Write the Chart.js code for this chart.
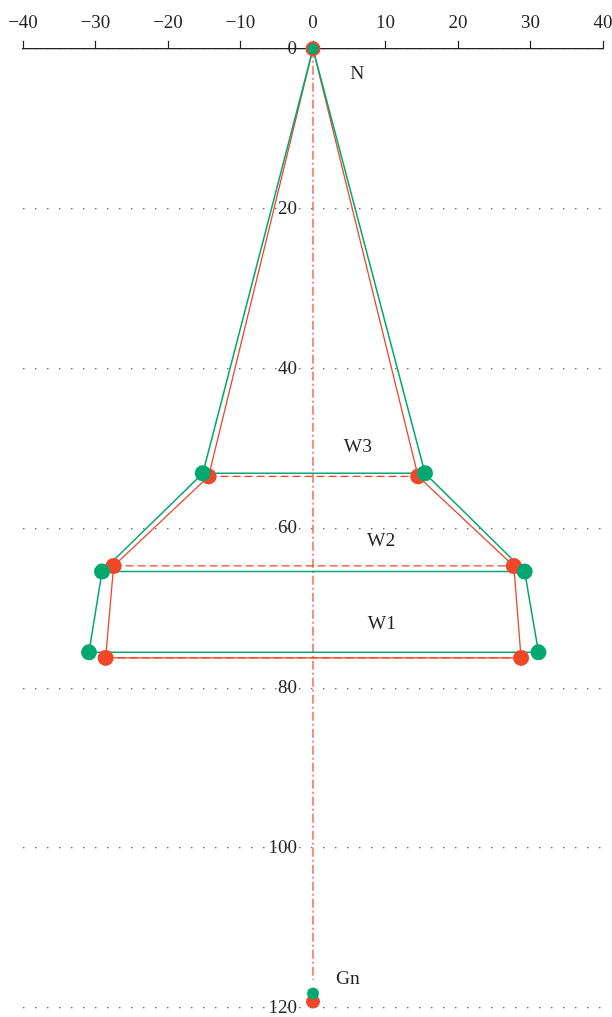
<!DOCTYPE html>
<html>
<head>
<meta charset="utf-8">
<script src="https://cdn.jsdelivr.net/npm/chart.js@4.4.1/dist/chart.umd.min.js"></script>
<style>
  html, body { margin: 0; padding: 0; background: #fff; }
  #wrap { width: 612px; height: 1017px; }
</style>
</head>
<body>
<div id="wrap"><canvas id="my-chart"></canvas></div>
<script>
// levels from top to bottom: N, W3, W2, W1, Gn
const levels = ["N", "W3", "W2", "W1", "Gn"];

// green model
const greenLeftX = [0, -15.2, -29.1, -30.9, 0];
const greenRightX = [0, 15.45, 29.2, 31.1, 0];
const greenY = [0, 53.1, 65.4, 75.5, 118.2];

// red model
const redLeftX = [0, -14.4, -27.5, -28.6, 0];
const redRightX = [0, 14.5, 27.7, 28.7, 0];
const redY = [0, 53.5, 64.7, 76.2, 119.2];

// centre line
const centerLineY = [0, 116.5];

// annotations
const labelText = ["N", "W3", "W2", "W1", "Gn"];
const labelX = [6.1, 6.2, 9.4, 9.5, 4.8];
const labelY = [3.1, 49.8, 61.5, 71.9, 116.4];

// ticks
const xTicks = [-40, -30, -20, -10, 0, 10, 20, 30, 40];
const yTicks = [0, 20, 40, 60, 80, 100, 120];

const GREEN = "#00a870";
const RED = "#f0462a";
const INK = "#231f20";
const FONT = "'Liberation Serif', 'DejaVu Serif', serif";

// outline: N -> left side down -> W1 across -> right side up -> N
function outline(leftX, rightX, ys) {
    const pts = [];
    for (let i = 0; i <= 3; i++) pts.push({ x: leftX[i], y: ys[i] });
    for (let i = 3; i >= 0; i--) pts.push({ x: rightX[i], y: ys[i] });
    return pts;
}

// horizontal members at the given levels, split with gaps
function crossbars(leftX, rightX, ys, idx) {
    const pts = [];
    idx.forEach((i) => {
        pts.push({ x: leftX[i], y: ys[i] });
        pts.push({ x: rightX[i], y: ys[i] });
        pts.push({ x: 0, y: null });
    });
    return pts;
}

function nodes(leftX, rightX, ys) {
    const pts = [];
    for (let i = 0; i < levels.length; i++) {
        pts.push({ x: leftX[i], y: ys[i] });
        if (rightX[i] !== leftX[i]) pts.push({ x: rightX[i], y: ys[i] });
    }
    return pts;
}

const greenNodes = nodes(greenLeftX, greenRightX, greenY);
const redNodes = nodes(redLeftX, redRightX, redY);

const labelPlugin = {
    id: "labels",
    afterDatasetsDraw(chart) {
        const ctx = chart.ctx;
        const xs = chart.scales.x;
        const ys = chart.scales.y;
        ctx.save();
        ctx.fillStyle = INK;
        ctx.font = "19.5px " + FONT;
        ctx.textAlign = "center";
        ctx.textBaseline = "middle";
        labelText.forEach((t, i) => {
            ctx.fillText(t, xs.getPixelForValue(labelX[i]), ys.getPixelForValue(labelY[i]));
        });
        ctx.restore();
    },
};

const ctx = document.getElementById("my-chart").getContext("2d");
const chart = new Chart(ctx, {
    type: "scatter",
    data: {
        datasets: [
            {
                // green nodes on top
                data: greenNodes,
                backgroundColor: GREEN,
                borderColor: GREEN,
                pointRadius: greenNodes.map((p) => (p.y === greenY[4] ? 6 : p.y === 0 ? 5.5 : 8)),
                borderWidth: 0,
                showLine: false,
                clip: false,
            },
            {
                data: redNodes,
                backgroundColor: RED,
                borderColor: RED,
                pointRadius: redNodes.map((p) => (p.y === redY[4] ? 7 : p.y === 0 ? 7.5 : 8)),
                borderWidth: 0,
                showLine: false,
                clip: false,
            },
            {
                data: outline(greenLeftX, greenRightX, greenY),
                showLine: true,
                borderColor: GREEN,
                borderWidth: 1.5,
                pointRadius: 0,
                clip: false,
            },
            {
                data: crossbars(greenLeftX, greenRightX, greenY, [1, 2]),
                showLine: true,
                spanGaps: false,
                borderColor: GREEN,
                borderWidth: 1.5,
                pointRadius: 0,
                clip: false,
            },
            {
                data: outline(redLeftX, redRightX, redY),
                showLine: true,
                borderColor: RED,
                borderWidth: 1.3,
                pointRadius: 0,
                clip: false,
            },
            {
                data: crossbars(redLeftX, redRightX, redY, [1, 2, 3]),
                showLine: true,
                spanGaps: false,
                borderColor: RED,
                borderWidth: 1.3,
                borderDash: [8, 4],
                pointRadius: 0,
                clip: false,
            },
            {
                data: centerLineY.map((y) => ({ x: 0, y: y })),
                showLine: true,
                borderColor: RED,
                borderWidth: 1.2,
                borderDash: [9, 3, 2, 3],
                pointRadius: 0,
                clip: false,
            },
        ],
    },
    options: {
        responsive: true,
        maintainAspectRatio: false,
        animation: false,
        layout: { padding: { left: 23, right: 9, top: 6, bottom: 9 } },
        plugins: {
            legend: { display: false },
            tooltip: { enabled: false },
        },
        scales: {
            x: {
                type: "linear",
                position: "top",
                min: -40,
                max: 40,
                afterBuildTicks: (scale) => {
                    scale.ticks = xTicks.map((v) => ({ value: v }));
                },
                afterFit: (scale) => {
                    scale.paddingLeft = 0;
                    scale.paddingRight = 0;
                },
                ticks: {
                    color: INK,
                    font: { family: FONT, size: 19 },
                    padding: 6,
                    maxRotation: 0,
                    callback: (v) => String(v).replace("-", "\u2212"),
                },
                grid: {
                    drawOnChartArea: false,
                    drawTicks: true,
                    tickLength: 8,
                    tickColor: INK,
                    tickWidth: 1.2,
                },
                border: { display: true, color: INK, width: 1.2 },
            },
            y: {
                type: "linear",
                position: { x: -2.2 },
                reverse: true,
                min: 0,
                max: 120,
                afterBuildTicks: (scale) => {
                    scale.ticks = yTicks.map((v) => ({ value: v }));
                },
                afterFit: (scale) => {
                    scale.paddingTop = 0;
                    scale.paddingBottom = 0;
                },
                ticks: {
                    color: INK,
                    font: { family: FONT, size: 19 },
                },
                grid: {
                    color: "#666",
                    lineWidth: 1.3,
                    drawTicks: false,
                },
                border: { display: false, dash: [1.5, 10.5] },
            },
        },
    },
    plugins: [labelPlugin],
});
</script>
</body>
</html>
